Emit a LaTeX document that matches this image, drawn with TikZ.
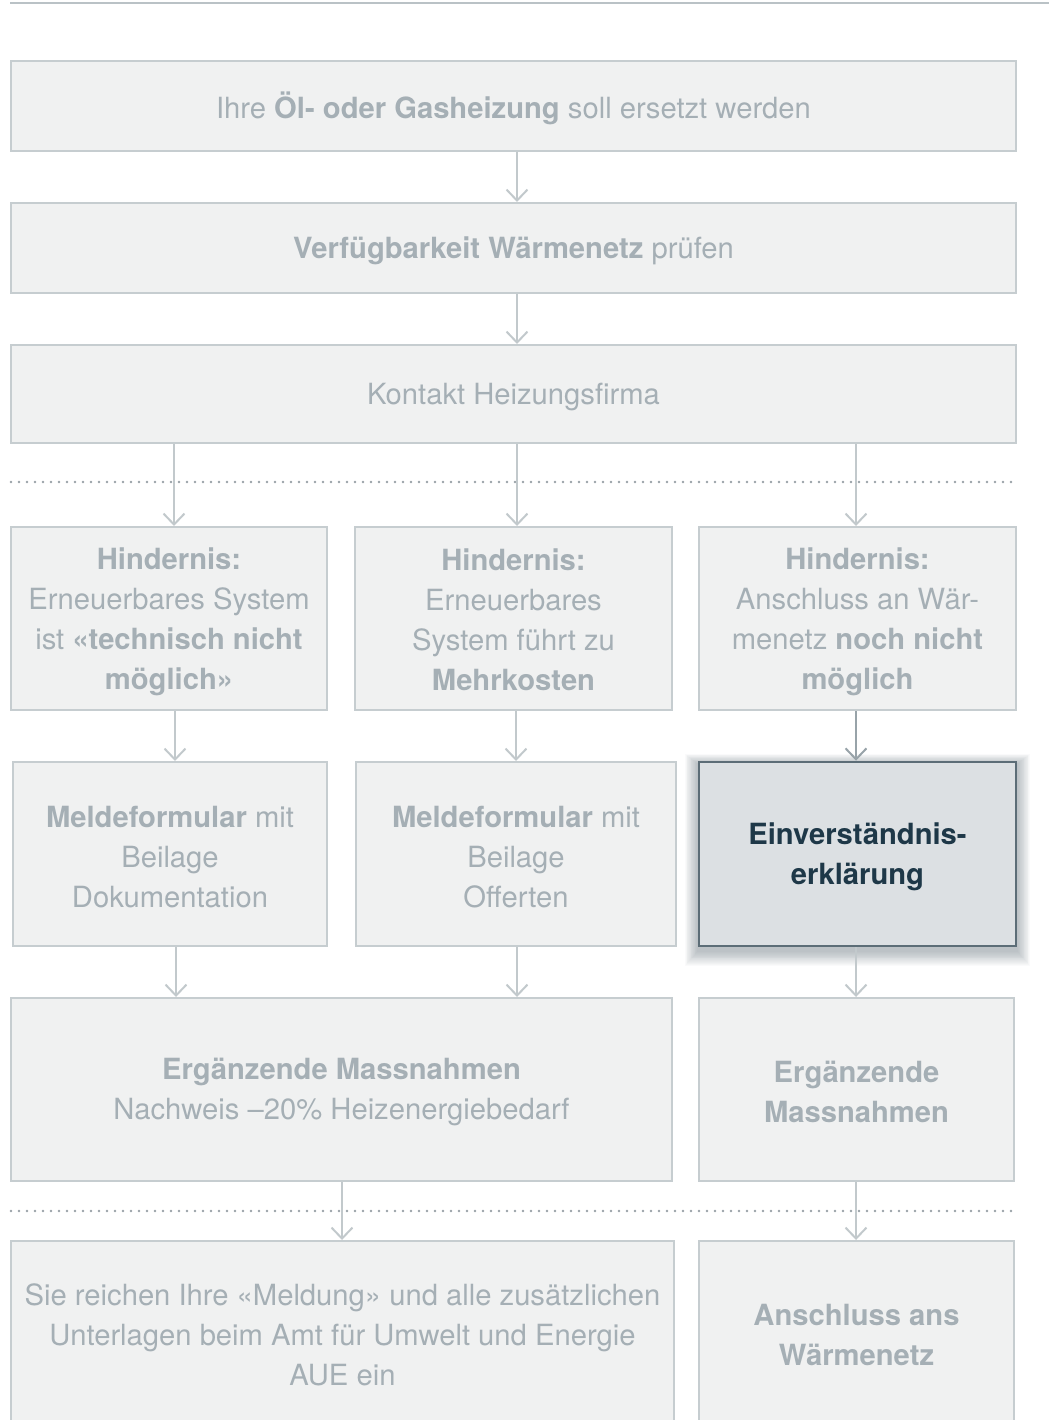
\documentclass[tikz,border=0pt]{standalone}
\usepackage{fontspec}
\setmainfont{TeX Gyre Heros}
\usetikzlibrary{arrows.meta,calc}
\definecolor{boxfill}{HTML}{F0F1F1}
\definecolor{boxdraw}{HTML}{C6CDD0}
\definecolor{txtc}{HTML}{A5AFB5}
\definecolor{hifill}{HTML}{DCE0E3}
\definecolor{hidraw}{HTML}{5C6D77}
\definecolor{hitxt}{HTML}{1E3848}
\definecolor{dotc}{HTML}{98A1A7}
\definecolor{arrc}{HTML}{C2C9CC}
\definecolor{arrdark}{HTML}{98A3A9}
\definecolor{topline}{HTML}{BAC2C6}
\definecolor{shadowc}{HTML}{2A3E4A}
\pgfdeclarelayer{bg}
\pgfsetlayers{bg,main}
\begin{document}
\begin{tikzpicture}[x=1pt,y=-1pt,
  box/.style={draw=boxdraw, fill=boxfill, line width=2pt, rectangle, inner sep=0pt},
  hibox/.style={box, draw=hidraw, fill=hifill, line width=2.5pt},
  txt/.style={align=center, text=txtc, inner sep=0pt, font=\fontsize{29.2}{40}\selectfont},
  hitxtst/.style={txt, text=hitxt},
  arr/.style={draw=arrc, line width=2pt, -{Straight Barb[length=11pt,width=21pt,line width=2pt]}},
  arrdk/.style={arr, draw=arrdark},
  dotline/.style={draw=dotc, line width=2.9pt, line cap=round, dash pattern=on 0pt off 8pt}
]
\useasboundingbox (0,0) rectangle (1049,1420);
\clip (0,0) rectangle (1049,1420);

% top rule
\coordinate (tl) at (10,3);
\coordinate (tr) at (1049,3);
\draw[topline, line width=2pt] (tl) -- (tr);

% full-width boxes
\node[box, minimum width=1005, minimum height=90] (b1) at (513.5,106) {};
\node[txt] (t1) at ([yshift=-2]b1.center) {Ihre \textbf{Öl- oder Gasheizung} soll ersetzt werden};
\node[box, minimum width=1005, minimum height=90] (b2) at (513.5,248) {};
\node[txt] (t2) at ([yshift=-3]b2.center) {\textbf{Verfügbarkeit Wärmenetz} prüfen};
\node[box, minimum width=1005, minimum height=98] (b3) at (513.5,394) {};
\node[txt] (t3) at ([yshift=-3]b3.center) {Kontakt Heizungsfirma};

% dotted separators
\coordinate (d1l) at (11,482);
\coordinate (d1r) at (1016,482);
\draw[dotline] (d1l) -- (d1r);
\coordinate (d2l) at (11,1211);
\coordinate (d2r) at (1016,1211);
\draw[dotline] (d2l) -- (d2r);

% row 4
\node[box, minimum width=316, minimum height=183] (r4a) at (169,618.5) {};
\node[txt] (t4a) at ([yshift=-3]r4a.center)
  {\textbf{Hindernis:}\\Erneuerbares System\\ist \textbf{«technisch nicht}\\\textbf{möglich»}};
\node[box, minimum width=317, minimum height=183] (r4b) at (513.5,618.5) {};
\node[txt] (t4b) at ([yshift=-1]r4b.center)
  {\textbf{Hindernis:}\\Erneuerbares\\System führt zu\\\textbf{Mehrkosten}};
\node[box, minimum width=317, minimum height=183] (r4c) at (857.5,618.5) {};
\node[txt] (t4c) at ([yshift=-3]r4c.center)
  {\textbf{Hindernis:}\\Anschluss an Wär-\\menetz \textbf{noch nicht}\\\textbf{möglich}};

% row 5
\node[box, minimum width=314, minimum height=184] (r5a) at (170,854) {};
\node[txt] (t5a) at ([yshift=-3]r5a.center) {\textbf{Meldeformular} mit\\Beilage\\Dokumentation};
\node[box, minimum width=320, minimum height=184] (r5b) at (516,854) {};
\node[txt] (t5b) at ([yshift=-3]r5b.center) {\textbf{Meldeformular} mit\\Beilage\\Offerten};
\node[hibox, minimum width=317, minimum height=184] (r5c) at (857.5,854) {};
\node[hitxtst] (t5c) at ([yshift=-3]r5c.center) {\textbf{Einverständnis-}\\\textbf{erklärung}};
\begin{pgfonlayer}{bg}
  \foreach \i in {1,...,16}{
    \fill[shadowc, opacity=0.022]
      ($(r5c.south west)+(-0.8*\i,0.9*\i+4)$) rectangle ($(r5c.north east)+(0.8*\i,-0.6*\i+3)$);
  }
\end{pgfonlayer}

% row 6
\node[box, minimum width=661, minimum height=183] (r6a) at (341.5,1089.5) {};
\node[txt] (t6a) at ([yshift=-2]r6a.center)
  {\textbf{Ergänzende Massnahmen}\\Nachweis –20\% Heizenergiebedarf};
\node[box, minimum width=315, minimum height=183] (r6c) at (856.5,1089.5) {};
\node[txt] (t6c) at ([yshift=-2]r6c.center) {\textbf{Ergänzende}\\\textbf{Massnahmen}};

% row 7
\node[box, minimum width=663, minimum height=186] (r7a) at (342.5,1334) {};
\node[txt] (t7a) at ([yshift=-1]r7a.center)
  {Sie reichen Ihre «Meldung» und alle zusätzlichen\\Unterlagen beim Amt für Umwelt und Energie\\AUE ein};
\node[box, minimum width=315, minimum height=186] (r7c) at (856.5,1334) {};
\node[txt] (t7c) at ([yshift=-1]r7c.center) {\textbf{Anschluss ans}\\\textbf{Wärmenetz}};

% connectors
\draw[arr] ([xshift=3.5]b1.south) -- ([xshift=3.5]b2.north);
\draw[arr] ([xshift=3.5]b2.south) -- ([xshift=3.5]b3.north);
\draw[arr] (b3.south -| {174,0}) -- ([xshift=5]r4a.north);
\draw[arr] (b3.south -| {517,0}) -- ([xshift=3.5]r4b.north);
\draw[arr] (b3.south -| {856,0}) -- ([xshift=-1.5]r4c.north);
\draw[arr] ([xshift=6]r4a.south) -- ([xshift=5]r5a.north);
\draw[arr] ([xshift=2.5]r4b.south) -- ([xshift=0]r5b.north);
\draw[arrdk] ([xshift=-1.5]r4c.south) -- ([xshift=-1.5]r5c.north);
\draw[arr] ([xshift=6]r5a.south) -- (r6a.north -| {176,0});
\draw[arr] ([xshift=1]r5b.south) -- (r6a.north -| {517,0});
\draw[arr] ([xshift=-1.5]r5c.south) -- ([xshift=-0.5]r6c.north);
\draw[arr] ([xshift=0.5]r6a.south) -- ([xshift=-0.5]r7a.north);
\draw[arr] ([xshift=-0.5]r6c.south) -- ([xshift=-0.5]r7c.north);
\end{tikzpicture}
\end{document}
